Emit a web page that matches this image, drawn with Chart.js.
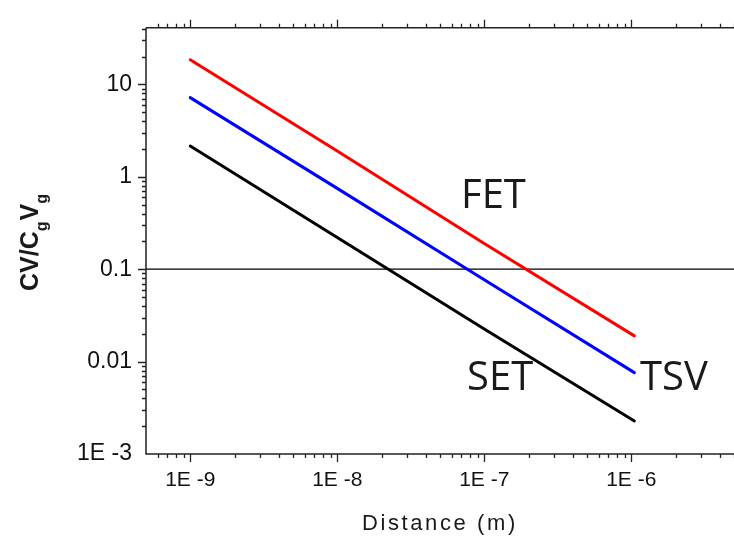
<!DOCTYPE html>
<html>
<head>
<meta charset="utf-8">
<script src="https://cdn.jsdelivr.net/npm/chart.js@4.4.0/dist/chart.umd.min.js"></script>
<style>
html, body { margin: 0; padding: 0; background: #fff; overflow: hidden; }
#wrap { width: 734px; height: 537px; }
</style>
</head>
<body>
<div id="wrap"><canvas id="chart" width="734" height="537"></canvas></div>
<script>
// 거리 (m) 와 각 소자의 CV/CgVg 값
const distance = [1e-9, 1e-8, 1e-7, 1.05e-6];
const fetValues = [18.5, 1.9, 0.19, 0.019];
const tsvValues = [7.2, 0.75, 0.077, 0.0076];
const setValues = [2.15, 0.22, 0.0225, 0.00228];

// 0.1 기준선
const refLevel = 0.1;

// 축 범위와 눈금
const xRange = [5e-10, 5e-6];
const yRange = [1e-3, 41];
const xTickValues = [1e-9, 1e-8, 1e-7, 1e-6];
const xTickLabels = ['1E -9', '1E -8', '1E -7', '1E -6'];
const yTickValues = [1e-3, 0.01, 0.1, 1, 10];
const yTickLabels = ['1E -3', '0.01', '0.1', '1', '10'];

const curveNames = ['FET', 'TSV', 'SET'];

function toPoints(xs, ys) {
    return xs.map((d, i) => ({ x: d, y: ys[i] }));
}

// 축 테두리, 눈금, 주석 글자 그리기
const framePlugin = {
    id: 'frame',
    afterDraw(chart) {
        const { ctx, chartArea: a, scales } = chart;
        const x = scales.x, y = scales.y;
        ctx.save();
        ctx.strokeStyle = '#222';
        ctx.lineWidth = 1.5;
        ctx.beginPath();
        ctx.moveTo(a.left, a.top); ctx.lineTo(a.right, a.top);
        ctx.moveTo(a.left, a.top); ctx.lineTo(a.left, a.bottom); ctx.lineTo(a.right, a.bottom);
        ctx.stroke();

        ctx.lineWidth = 1.3;
        ctx.beginPath();
        for (let e = -10; e <= -6; e++) {
            for (let m = 1; m <= 9; m++) {
                const v = m * Math.pow(10, e);
                if (v < x.min * 1.01 || v > x.max) continue;
                const px = Math.round(x.getPixelForValue(v)) + 0.5;
                const len = m === 1 ? 8 : 4;
                ctx.moveTo(px, a.bottom); ctx.lineTo(px, a.bottom + len);
                ctx.moveTo(px, a.top); ctx.lineTo(px, a.top - len);
            }
        }
        for (let e = -3; e <= 1; e++) {
            for (let m = 1; m <= 9; m++) {
                const v = m * Math.pow(10, e);
                if (v < y.min * 1.01 || v > y.max) continue;
                const py = Math.round(y.getPixelForValue(v)) + 0.5;
                const len = m === 1 ? 8 : 4;
                ctx.moveTo(a.left, py); ctx.lineTo(a.left - len, py);
            }
        }
        ctx.stroke();

        // 곡선 이름
        ctx.fillStyle = '#1a1a1a';
        ctx.font = '40px "Open Sans"';
        ctx.textBaseline = 'alphabetic';
        ctx.fillText(curveNames[0], 461, 208);
        ctx.fillText(curveNames[2], 467, 390);
        ctx.fillText(curveNames[1], 640, 390);

        // x축 제목
        ctx.fillStyle = '#1a1a1a';
        ctx.font = '22px "Liberation Sans", Arial';
        ctx.letterSpacing = '2.6px';
        ctx.fillText('Distance (m)', 362, 530);
        ctx.letterSpacing = '0px';

        // y축 제목 (아래첨자 포함, 회전)
        ctx.translate(38, 291);
        ctx.rotate(-Math.PI / 2);
        const parts = [['CV/C', false], ['g', true], ['V', false], ['g', true]];
        let pos = 0;
        parts.forEach(([t, sub]) => {
            ctx.font = sub ? 'bold 16px "Liberation Sans", Arial' : 'bold 25px "Liberation Sans", Arial';
            ctx.fillText(t, pos, sub ? 9 : 0);
            pos += ctx.measureText(t).width + (sub ? 1 : 0);
        });
        ctx.restore();
    }
};

const ctx = document.getElementById('chart').getContext('2d');
const myChart = new Chart(ctx, {
    type: 'line',
    data: {
        datasets: [
            { label: curveNames[0], data: toPoints(distance, fetValues), borderColor: '#ff0000', borderWidth: 3 },
            { label: curveNames[1], data: toPoints(distance, tsvValues), borderColor: '#0000ff', borderWidth: 3 },
            { label: curveNames[2], data: toPoints(distance, setValues), borderColor: '#000000', borderWidth: 3 },
            { label: 'ref', data: toPoints(xRange, [refLevel, refLevel]), borderColor: '#000000', borderWidth: 1.3 }
        ]
    },
    options: {
        responsive: false,
        devicePixelRatio: 1,
        animation: false,
        elements: {
            point: { radius: 0 },
            line: { tension: 0, fill: false, borderCapStyle: 'round' }
        },
        layout: { padding: { top: 14, right: 0, left: 0, bottom: 0 } },
        plugins: { legend: { display: false }, tooltip: { enabled: false } },
        scales: {
            x: {
                type: 'logarithmic',
                position: 'bottom',
                min: xRange[0],
                max: xRange[1],
                grid: { display: false, drawTicks: false },
                border: { display: false },
                afterBuildTicks: s => { s.ticks = xTickValues.map(v => ({ value: v })); },
                afterFit: s => { s.height = 83; },
                ticks: {
                    autoSkip: false,
                    maxRotation: 0,
                    padding: 14,
                    color: '#111',
                    font: { family: '"Liberation Sans", Arial', size: 21 },
                    callback: v => xTickLabels[xTickValues.indexOf(v)]
                }
            },
            y: {
                type: 'logarithmic',
                position: 'left',
                min: yRange[0],
                max: yRange[1],
                grid: { display: false, drawTicks: false },
                border: { display: false },
                afterBuildTicks: s => { s.ticks = yTickValues.map(v => ({ value: v })); },
                afterFit: s => { s.width = 146; },
                ticks: {
                    autoSkip: false,
                    padding: 14,
                    color: '#111',
                    font: { family: '"Liberation Sans", Arial', size: 23 },
                    callback: v => yTickLabels[yTickValues.indexOf(v)]
                }
            }
        }
    },
    plugins: [framePlugin]
});
</script>
</body>
</html>
